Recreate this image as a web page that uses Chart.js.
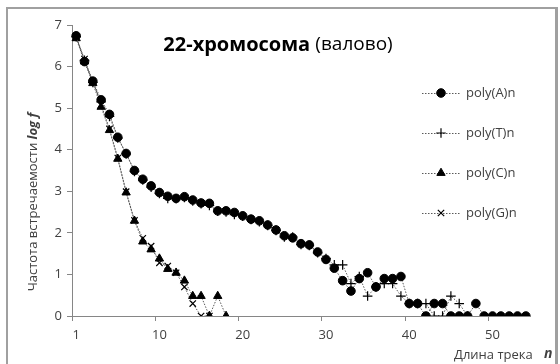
<!DOCTYPE html>
<html>
<head>
<meta charset="utf-8">
<script src="https://cdn.jsdelivr.net/npm/chart.js@4.4.1/dist/chart.umd.min.js"></script>
<style>
  html, body { margin: 0; padding: 0; background: #fff; }
  #wrap { position: relative; width: 560px; height: 364px; overflow: hidden; }
  #wrap canvas { position: absolute; left: 0; top: 0; }
  #frame { position: absolute; left: 6px; top: 7px; width: 548px; height: 400px;
           border: 2px solid #a0a0a0; z-index: 5; pointer-events: none; }
</style>
</head>
<body>
<div id="wrap">
  <canvas id="chart" width="560" height="364"></canvas>
  <div id="frame"></div>
</div>
<script>
  // track length n (category axis, 55 slots)
  const trackLengths = [1, 2, 3, 4, 5, 6, 7, 8, 9, 10, 11, 12, 13, 14, 15, 16, 17, 18, 19, 20,
    21, 22, 23, 24, 25, 26, 27, 28, 29, 30, 31, 32, 33, 34, 35, 36, 37, 38, 39, 40,
    41, 42, 43, 44, 45, 46, 47, 48, 49, 50, 51, 52, 53, 54, 55];

  // x tick labels and the slots they sit on
  const xTickLabels = ['1', '10', '20', '30', '40', '50'];
  const xTickIndex = [0, 10, 20, 30, 40, 50];
  const yTicks = [0, 1, 2, 3, 4, 5, 6, 7];

  // log f values
  const polyA = [6.74, 6.12, 5.65, 5.2, 4.85, 4.3, 3.91, 3.5, 3.29, 3.13,
    2.97, 2.88, 2.83, 2.87, 2.79, 2.72, 2.71, 2.53, 2.53, 2.49,
    2.41, 2.33, 2.29, 2.19, 2.07, 1.93, 1.88, 1.74, 1.71, 1.54,
    1.36, 1.15, 0.85, 0.6, 0.9, 1.04, 0.7, 0.9, 0.9, 0.95,
    0.3, 0.3, 0, 0.3, 0.3, 0, 0, 0, 0.3, 0,
    0, 0, 0, 0, 0];
  const polyT = [6.72, 6.15, 5.62, 5.15, 4.8, 4.28, 3.9, 3.48, 3.27, 3.1,
    2.95, 2.83, 2.82, 2.85, 2.77, 2.7, 2.66, 2.52, 2.5, 2.44,
    2.4, 2.32, 2.27, 2.18, 2.06, 1.9, 1.9, 1.72, 1.7, 1.52,
    1.38, 1.23, 1.23, 0.78, 0.95, 0.48, 0.7, 0.78, 0.78, 0.48,
    0.3, 0.3, 0.3, 0, 0, 0.48, 0.3, 0];
  const polyC = [6.68, 6.12, 5.6, 5.03, 4.47, 3.78, 2.97, 2.29, 1.79, 1.6,
    1.38, 1.13, 1.04, 0.85, 0.48, 0.48, 0, 0.48, 0];
  const polyG = [6.7, 6.18, 5.65, 5.08, 4.5, 3.8, 2.99, 2.3, 1.87, 1.68,
    1.28, 1.2, 1.04, 0.7, 0.3, 0, 0];

  const seriesNames = ['poly(A)n', 'poly(T)n', 'poly(C)n', 'poly(G)n'];

  const AXIS = '#868686';
  const TEXT = '#404040';
  const LINE = '#5a5a5a';
  const FONT = '"Open Sans", "Liberation Sans", sans-serif';

  const MARKERS = [
    { pointStyle: 'circle', radius: 4.3, borderWidth: 1 },
    { pointStyle: 'cross', radius: 4.8, borderWidth: 1.2 },
    { pointStyle: 'triangle', radius: 4.8, borderWidth: 1 },
    { pointStyle: 'crossRot', radius: 4.5, borderWidth: 1.2 }
  ];

  function makeDataset(label, data, m) {
    return {
      label: label,
      data: data,
      borderColor: LINE,
      borderWidth: 1,
      borderDash: [1.5, 1.5],
      fill: false,
      tension: 0,
      pointStyle: m.pointStyle,
      pointRadius: m.radius,
      pointBorderWidth: m.borderWidth,
      pointBackgroundColor: '#000',
      pointBorderColor: '#000'
    };
  }

  // draw a string made of runs with different fonts
  function drawRuns(ctx, runs, x, y, align) {
    let total = 0;
    runs.forEach(r => { ctx.font = r.font; total += ctx.measureText(r.text).width; });
    let cx = align === 'center' ? x - total / 2 : (align === 'right' ? x - total : x);
    ctx.textAlign = 'left';
    ctx.textBaseline = 'middle';
    runs.forEach(r => {
      ctx.font = r.font;
      ctx.fillText(r.text, cx, y);
      cx += ctx.measureText(r.text).width;
    });
  }

  const textPlugin = {
    id: 'texts',
    afterDraw(chart) {
      const ctx = chart.ctx;
      ctx.save();

      // title
      ctx.fillStyle = '#000';
      drawRuns(ctx, [
        { text: '22-хромосома ', font: 'bold 20px ' + FONT },
        { text: '(валово)', font: '19px ' + FONT }
      ], 278, 45, 'center');

      // y axis title
      ctx.fillStyle = TEXT;
      ctx.save();
      ctx.translate(33, 202);
      ctx.rotate(-Math.PI / 2);
      drawRuns(ctx, [
        { text: 'Частота встречаемости ', font: '13px ' + FONT },
        { text: 'log f', font: 'italic bold 13px ' + FONT }
      ], 0, 0, 'center');
      ctx.restore();

      // x axis title
      drawRuns(ctx, [{ text: 'Длина трека', font: '13px ' + FONT }], 454, 355, 'left');
      drawRuns(ctx, [{ text: 'n', font: 'italic bold 14px ' + FONT }], 544, 354, 'left');

      // legend
      const legendY = [93, 133, 173, 213];
      chart.data.datasets.forEach((ds, i) => {
        const y = legendY[i];
        ctx.strokeStyle = LINE;
        ctx.lineWidth = 1;
        ctx.setLineDash([1.5, 1.5]);
        ctx.beginPath();
        ctx.moveTo(422, y + 0.5);
        ctx.lineTo(460, y + 0.5);
        ctx.stroke();
        ctx.setLineDash([]);
        ctx.fillStyle = '#000';
        ctx.strokeStyle = '#000';
        ctx.lineWidth = MARKERS[i].borderWidth;
        Chart.helpers.drawPoint(ctx, {
          pointStyle: MARKERS[i].pointStyle,
          radius: MARKERS[i].radius,
          rotation: 0,
          borderWidth: MARKERS[i].borderWidth
        }, 441, y);
        ctx.fillStyle = TEXT;
        drawRuns(ctx, [{ text: ds.label, font: '13px ' + FONT }], 466, y, 'left');
      });

      // outer frame strips (left, top, right), drawn last
      ctx.fillStyle = '#a0a0a0';
      ctx.fillRect(6, 7, 2, 357);
      ctx.fillRect(6, 7, 551, 2);
      ctx.fillRect(555, 7, 2, 357);

      ctx.restore();
    }
  };

  new Chart(document.getElementById('chart'), {
    type: 'line',
    data: {
      labels: trackLengths,
      datasets: [
        makeDataset(seriesNames[0], polyA, MARKERS[0]),
        makeDataset(seriesNames[1], polyT, MARKERS[1]),
        makeDataset(seriesNames[2], polyC, MARKERS[2]),
        makeDataset(seriesNames[3], polyG, MARKERS[3])
      ]
    },
    options: {
      responsive: false,
      animation: false,
      devicePixelRatio: 1,
      layout: { padding: { left: 0, right: 30, top: 25, bottom: 0 } },
      plugins: {
        legend: { display: false },
        tooltip: { enabled: false },
        title: { display: false }
      },
      scales: {
        x: {
          type: 'category',
          offset: true,
          grid: {
            offset: true,
            drawOnChartArea: false,
            drawTicks: true,
            tickLength: 5,
            color: 'transparent',
            tickColor: c => (c.index % 10 === 0 ? AXIS : 'transparent')
          },
          border: { display: true, color: AXIS, width: 1 },
          ticks: {
            autoSkip: false,
            maxRotation: 0,
            minRotation: 0,
            padding: 6,
            color: TEXT,
            font: { family: FONT, size: 13 },
            callback: (v, i) => {
              const k = xTickIndex.indexOf(i);
              return k >= 0 ? xTickLabels[k] : '';
            }
          },
          afterFit: s => { s.height = 48; }
        },
        y: {
          min: yTicks[0],
          max: yTicks[yTicks.length - 1],
          grid: {
            drawOnChartArea: false,
            drawTicks: true,
            tickLength: 5,
            tickColor: AXIS,
            color: AXIS
          },
          border: { display: true, color: AXIS, width: 1 },
          ticks: {
            stepSize: 1,
            padding: 5,
            color: TEXT,
            font: { family: FONT, size: 13 }
          },
          afterFit: s => { s.width = 72; }
        }
      }
    },
    plugins: [textPlugin]
  });
</script>
</body>
</html>
